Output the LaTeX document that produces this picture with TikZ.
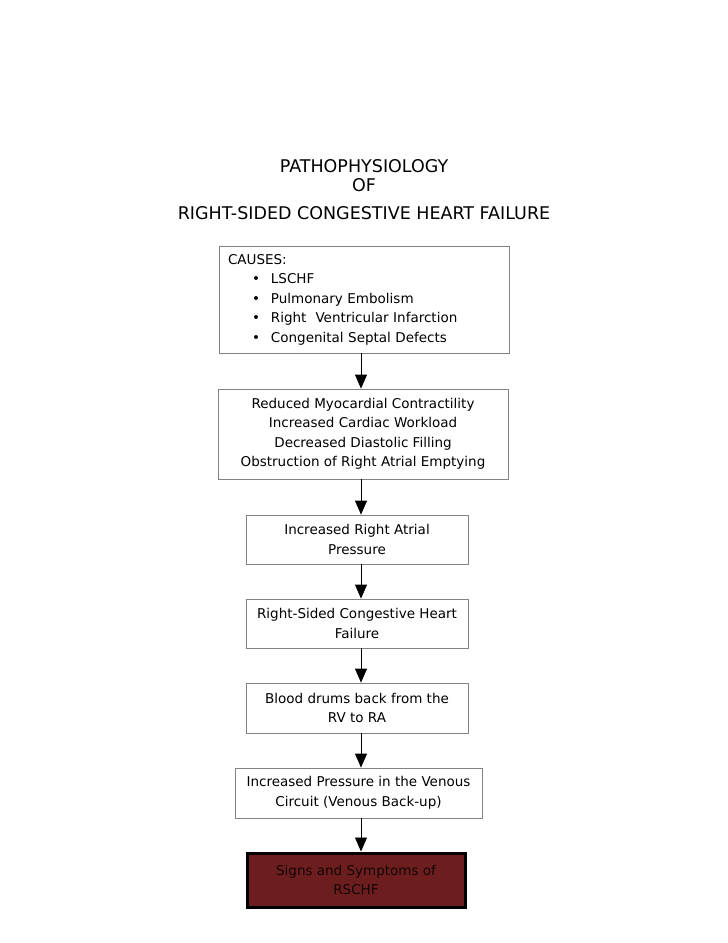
\documentclass[tikz,border=0pt]{standalone}
\usepackage{fontspec}
\setmainfont{DejaVu Sans}
\usetikzlibrary{arrows.meta}
\definecolor{boxgray}{RGB}{130,130,130}
\definecolor{symptomred}{RGB}{108,30,30}
\definecolor{symptomtext}{RGB}{20,5,5}

\begin{document}
\begin{tikzpicture}[x=1pt,y=-1pt,
  stage/.style={draw=boxgray,line width=0.8pt,align=center,inner sep=0pt,
    font=\fontsize{13.5}{19.5}\selectfont},
  flow/.style={-{Triangle[width=12pt,length=14pt]},line width=0.8pt}]
\useasboundingbox (0,0) rectangle (728,943);
% title
\node[align=center,font=\fontsize{17.5}{19}\selectfont] (title) at (364,190)
  {PATHOPHYSIOLOGY\\OF\\[9pt]RIGHT-SIDED CONGESTIVE HEART FAILURE};
% boxes (centres taken from the page)
\node[stage,minimum width=290,minimum height=107,align=left,text width=272] (causes) at (364,299.5)
  {CAUSES:\\
   \hspace*{24pt}\textbullet\hspace{11pt}LSCHF\\
   \hspace*{24pt}\textbullet\hspace{11pt}Pulmonary Embolism\\
   \hspace*{24pt}\textbullet\hspace{11pt}Right\ \ Ventricular Infarction\\
   \hspace*{24pt}\textbullet\hspace{11pt}Congenital Septal Defects};
\node[stage,minimum width=290,minimum height=90] (reduced) at (363,434)
  {Reduced Myocardial Contractility\\Increased Cardiac Workload\\Decreased Diastolic Filling\\Obstruction of Right Atrial Emptying};
\node[stage,minimum width=222,minimum height=49] (rap) at (357,539.5)
  {Increased Right Atrial\\Pressure};
\node[stage,minimum width=222,minimum height=49] (rschf) at (357,623.5)
  {Right-Sided Congestive Heart\\Failure};
\node[stage,minimum width=222,minimum height=50] (blood) at (357,708)
  {Blood drums back from the\\RV to RA};
\node[stage,minimum width=247,minimum height=50] (venous) at (358.5,793)
  {Increased Pressure in the Venous\\Circuit (Venous Back-up)};
\node[stage,draw=black,line width=3pt,fill=symptomred,text=symptomtext,
  minimum width=218,minimum height=54] (signs) at (356,880)
  {Signs and Symptoms of\\RSCHF};
% arrows down the spine
\coordinate (spine) at (361,0);
\draw[flow] (causes.south -| spine) -- (reduced.north -| spine);
\draw[flow] (reduced.south -| spine) -- (rap.north -| spine);
\draw[flow] (rap.south -| spine) -- (rschf.north -| spine);
\draw[flow] (rschf.south -| spine) -- (blood.north -| spine);
\draw[flow] (blood.south -| spine) -- (venous.north -| spine);
\draw[flow] (venous.south -| spine) -- (signs.north -| spine);
\end{tikzpicture}
\end{document}
